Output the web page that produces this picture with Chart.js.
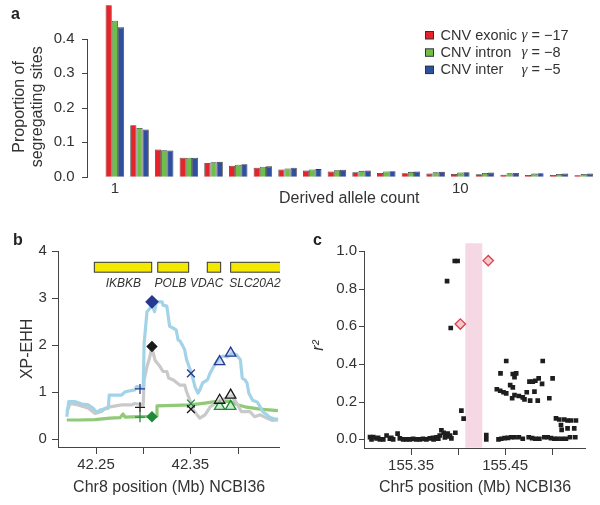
<!DOCTYPE html>
<html><head><meta charset="utf-8">
<script src="https://cdn.jsdelivr.net/npm/chart.js@4.4.0/dist/chart.umd.min.js"></script>
<style>
html,body{margin:0;padding:0;background:#fff;}
#wrap{position:relative;width:600px;height:505px;overflow:hidden;background:#fff;}
canvas{position:absolute;}
</style></head><body>
<div id="wrap">
<canvas id="ca" width="600" height="215" style="left:0;top:0"></canvas>
<canvas id="cb" width="300" height="280" style="left:0;top:225px"></canvas>
<canvas id="cc" width="300" height="280" style="left:300px;top:225px"></canvas>
</div>
<script>
// ---------- Panel a data ----------
const alleleCountLabels = ['1','','','','','','','','','','','','','','10','','','','',''];
const cnvExonic = [0.497,0.149,0.079,0.055,0.040,0.032,0.026,0.021,0.018,0.015,0.013,0.011,0.010,0.009,0.008,0.007,0.006,0.005,0.005,0.004];
const cnvIntron = [0.452,0.141,0.077,0.055,0.042,0.035,0.029,0.024,0.021,0.019,0.017,0.015,0.014,0.013,0.012,0.011,0.010,0.009,0.008,0.008];
const cnvInter  = [0.433,0.137,0.076,0.055,0.043,0.036,0.030,0.026,0.022,0.020,0.018,0.016,0.015,0.014,0.013,0.012,0.011,0.010,0.009,0.009];
const seriesNames = ['CNV exonic','CNV intron','CNV inter'];
const gammaValues = ['\u221217','\u22128','\u22125'];
const propTicks = [0,0.1,0.2,0.3,0.4];

// ---------- Panel b data ----------
const chr8Ticks = [42.25,42.30,42.35,42.40];
const chr8TickLabels = ['42.25','','42.35',''];
const xpehhTicks = [0,1,2,3,4];
const blueX = [42.219,42.221,42.228,42.235,42.242,42.247,42.251,42.254,42.263,42.264,42.277,42.281,42.291,42.293,42.300,42.301,42.304,42.307,42.309,42.312,42.314,42.320,42.321,42.325,42.328,42.332,42.335,42.337,42.339,42.342,42.344,42.346,42.350,42.352,42.355,42.358,42.360,42.363,42.368,42.371,42.374,42.378,42.381,42.385,42.389,42.392,42.395,42.399,42.403,42.405,42.408,42.410,42.412,42.416,42.421,42.424,42.427,42.431,42.434,42.439,42.443];
const blueY = [0.48,0.80,0.80,0.75,0.73,0.66,0.57,0.62,0.66,0.94,0.94,1.01,1.05,1.12,1.08,2.04,2.71,2.78,2.89,2.71,2.92,2.92,2.85,2.83,2.40,2.36,2.32,2.11,2.09,1.98,1.90,1.69,1.47,1.34,1.11,0.98,1.05,1.20,1.26,1.41,1.52,1.66,1.73,1.77,1.75,1.79,1.83,1.79,1.69,1.30,1.26,1.20,0.98,0.83,0.79,0.69,0.58,0.52,0.47,0.43,0.43];
const greyX = [42.219,42.2225,42.231,42.242,42.249,42.256,42.2595,42.265,42.277,42.288,42.291,42.300,42.301,42.304,42.307,42.309,42.3125,42.318,42.321,42.325,42.327,42.332,42.339,42.344,42.346,42.350,42.353,42.357,42.360,42.3655,42.371,42.376,42.383,42.388,42.394,42.399,42.404,42.413,42.418,42.424,42.431,42.437,42.443];
const greyY = [0.59,0.76,0.73,0.66,0.55,0.59,0.66,0.69,0.73,0.73,0.76,0.73,1.26,1.54,1.75,1.97,1.68,1.54,1.44,1.44,1.30,1.26,1.15,1.15,1.01,0.80,0.62,0.52,0.45,0.52,0.69,0.76,0.83,0.88,0.92,0.77,0.59,0.59,0.48,0.52,0.45,0.40,0.41];
const greenX = [42.219,42.233,42.249,42.2648,42.2754,42.2786,42.2807,42.2966,42.3136,42.3146,42.3337,42.3496,42.3655,42.3761,42.3919,42.4004,42.4078,42.4237,42.4428];
const greenY = [0.41,0.41,0.42,0.45,0.46,0.54,0.47,0.48,0.49,0.71,0.72,0.73,0.77,0.80,0.81,0.73,0.69,0.64,0.61];
const snpX = [42.2966,42.3093,42.3506,42.3810,42.3927];
const snpStyles = ['cross','rectRot','crossRot','triangle','triangle'];
const snpBlue  = [1.07,2.92,1.40,1.65,1.83];
const snpBlack = [0.68,1.97,0.64,0.83,0.94];
const snpGreen = [0.47,0.48,0.76,0.70,0.70];
const geneNames = ['IKBKB','POLB','VDAC','SLC20A2'];
const geneStart = [42.2482,42.3154,42.3679,42.3927];
const geneEnd   = [42.3090,42.3482,42.3821,42.4500];
const geneLabelX = [42.2789,42.3290,42.3673,42.4184];

// ---------- Panel c data ----------
const chr5Ticks = [155.35,155.40,155.45,155.50];
const chr5TickLabels = ['155.35','','155.45',''];
const r2Ticks = [0,0.2,0.4,0.6,0.8,1.0];
const ldX = [155.3064,155.3080,155.3099,155.3134,155.3150,155.3170,155.3205,155.3240,155.3275,155.3290,155.3310,155.3357,155.3381,155.3416,155.3452,155.3487,155.3522,155.3558,155.3593,155.3628,155.3664,155.3699,155.3734,155.3740,155.3770,155.3790,155.3805,155.3823,155.3847,155.3860,155.3876,155.3890,155.3904,155.3915,155.3929,155.3971,
 155.3883,155.3922,155.3965,155.3995,155.4035,155.4059,
 155.4300,155.4300,
 155.4512,155.4900,155.4451,155.4582,155.4618,155.4600,155.4759,155.4794,155.4822,155.4857,155.4893,155.5005,155.4554,155.4582,155.4412,155.4448,155.4483,155.4512,155.4600,155.4646,155.4688,155.4730,155.4812,155.4575,155.4706,155.4766,155.4847,155.4970,
 155.5041,155.5076,155.5129,155.5164,155.5200,155.5253,155.5094,155.5101,155.5164,155.5235,
 155.4430,155.4459,155.4494,155.4529,155.4565,155.4600,155.4646,155.4688,155.4751,155.4787,155.4822,155.4864,155.4917,155.4952,155.4988,155.5023,155.5058,155.5105,155.5147,155.5190,155.5246];
const ldR2 = [0.012,0.000,0.012,0.005,0.008,0.000,0.000,0.020,0.003,0.008,0.000,0.030,0.005,0.000,0.000,0.000,0.002,0.000,0.000,0.002,0.000,0.005,0.008,0.000,0.010,0.003,0.020,0.048,0.035,0.010,0.025,0.030,0.015,0.020,0.005,0.035,
 0.840,0.591,0.947,0.947,0.152,0.110,
 0.023,0.000,
 0.416,0.416,0.350,0.347,0.350,0.330,0.306,0.306,0.311,0.324,0.294,0.324,0.288,0.276,0.266,0.258,0.250,0.244,0.235,0.230,0.223,0.250,0.253,0.218,0.212,0.205,0.205,0.218,
 0.111,0.105,0.105,0.100,0.100,0.100,0.076,0.050,0.058,0.058,
 0.000,0.003,0.006,0.008,0.011,0.011,0.011,0.003,0.011,0.006,0.003,0.003,0.011,0.011,0.006,0.003,0.003,0.003,0.003,0.011,0.011];
const cnvSnpX = [155.4024,155.4321];
const cnvSnpR2 = [0.612,0.949];
const bandRange = [155.4077,155.4257];

// ---------- helpers ----------
const FONT = "'Liberation Sans', Arial, Helvetica, sans-serif";
Chart.defaults.font.family = FONT;
Chart.defaults.color = '#333';
const AXC = '#444444';
const pts = (xs, ys) => xs.map((x, i) => ({x: x, y: ys[i]}));
const fixedTicks = arr => (s => { s.ticks = arr.map(v => ({value: v})); });

// R-style axes drawn with the chart's own scales (filled 1px rectangles)
function makeAxes(name, cfg) {
  return {
    id: 'axes_' + name,
    afterDraw(chart) {
      const ctx = chart.ctx, area = chart.chartArea;
      ctx.save();
      ctx.globalAlpha = 1;
      ctx.globalCompositeOperation = 'source-over';
      ctx.fillStyle = AXC;
      if (cfg.y) {
        const s = chart.scales.y;
        const xx = Math.round(area.left - cfg.y.shift);
        const yTop = Math.round((cfg.y.top !== undefined) ? s.getPixelForValue(cfg.y.top) : area.top);
        const yBot = Math.round((cfg.y.bottom !== undefined) ? s.getPixelForValue(cfg.y.bottom) : area.bottom);
        ctx.fillRect(xx, yTop, 1, yBot - yTop + 1);
        s.ticks.forEach(t => {
          const py = Math.round(s.getPixelForValue(t.value));
          ctx.fillRect(xx - cfg.y.tick, py, cfg.y.tick, 1);
        });
      }
      if (cfg.x) {
        const s = chart.scales.x;
        const yy = Math.round(area.bottom);
        ctx.fillRect(Math.round(area.left), yy, Math.round(area.right - area.left), 1);
        s.ticks.forEach(t => {
          const px = Math.round(s.getPixelForValue(t.value));
          ctx.fillRect(px, yy, 1, cfg.x.tick);
        });
      }
      ctx.fillStyle = '#222';
      ctx.font = 'bold 16px ' + FONT;
      ctx.textBaseline = 'alphabetic';
      ctx.textAlign = 'left';
      ctx.fillText(cfg.label.text, cfg.label.x, cfg.label.y);
      ctx.restore();
    }
  };
}

// ---------- Panel a ----------
const barColors = ['#e4232a','#6dbf47','#2f50a1'];
const legendPlugin = {
  id: 'cnvLegend',
  afterDraw(chart) {
    const ctx = chart.ctx;
    ctx.save();
    chart.data.datasets.forEach((ds, i) => {
      const y = 31 + i * 17.3;
      ctx.fillStyle = '#333';
      ctx.fillRect(425, y, 9, 8.5);
      ctx.fillStyle = ds.backgroundColor;
      ctx.fillRect(426, y + 1, 7, 6.5);
      ctx.fillStyle = '#333'; ctx.textBaseline = 'middle'; ctx.textAlign = 'left';
      ctx.font = '14.5px ' + FONT;
      ctx.fillText(seriesNames[i], 440.5, y + 4.6);
      ctx.font = 'italic 15px "Liberation Serif", serif';
      ctx.fillText('\u03b3', 521.5, y + 4.2);
      const w = ctx.measureText('\u03b3').width;
      ctx.font = '14.5px ' + FONT;
      ctx.fillText(' = ' + gammaValues[i], 521.5 + w, y + 4.6);
    });
    ctx.restore();
  }
};
new Chart(document.getElementById('ca'), {
  type: 'bar',
  data: {
    labels: alleleCountLabels,
    datasets: [
      {label: seriesNames[0], data: cnvExonic, backgroundColor: barColors[0]},
      {label: seriesNames[1], data: cnvIntron, backgroundColor: barColors[1]},
      {label: seriesNames[2], data: cnvInter, backgroundColor: barColors[2]}
    ]
  },
  options: {
    responsive: false, animation: false, devicePixelRatio: 1,
    datasets: {bar: {categoryPercentage: 0.75, barPercentage: 1, borderColor: '#3a3a3a', borderWidth: 0.8, clip: false}},
    layout: {padding: {left: 0, right: 4, top: 0, bottom: 0}},
    plugins: {legend: {display: false}, tooltip: {enabled: false}},
    scales: {
      x: {grid: {display: false, drawTicks: false}, border: {display: false},
          ticks: {autoSkip: false, maxRotation: 0, padding: 3, font: {size: 15}},
          title: {display: true, text: 'Derived allele count', font: {size: 16}, padding: {top: 0, bottom: 7}},
          afterFit: s => { s.height = 38.3; }},
      y: {min: 0, max: 0.405, afterBuildTicks: fixedTicks(propTicks),
          grid: {display: false, drawTicks: false}, border: {display: false},
          ticks: {padding: 28, font: {size: 15}, callback: v => v.toFixed(1)},
          title: {display: true, text: ['Proportion of', 'segregating sites'], font: {size: 16, lineHeight: 1.15}, padding: {top: 10}},
          afterFit: s => { s.width = 102.5; }}
    }
  },
  plugins: [legendPlugin, makeAxes('a', {y: {shift: 15.5, top: 0.4, bottom: 0, tick: 5}, label: {text: 'a', x: 11, y: 18.5}})]
});

// ---------- Panel b ----------
const NAVY = '#27388f', BLK = '#1a1a1a', DGRN = '#1e8a3a';
const genePlugin = {
  id: 'genes',
  beforeDatasetsDraw(chart) {
    const ctx = chart.ctx, x = chart.scales.x, y = chart.scales.y, area = chart.chartArea;
    ctx.save();
    ctx.beginPath(); ctx.rect(area.left, 0, area.right - area.left, chart.height); ctx.clip();
    const yt = y.getPixelForValue(3.76), yb = y.getPixelForValue(3.55);
    geneNames.forEach((g, i) => {
      const x0 = x.getPixelForValue(geneStart[i]), x1 = x.getPixelForValue(geneEnd[i]);
      ctx.fillStyle = '#f4e800'; ctx.fillRect(x0, yt, x1 - x0, yb - yt);
      ctx.strokeStyle = '#333'; ctx.lineWidth = 1; ctx.strokeRect(x0, yt, x1 - x0, yb - yt);
    });
    ctx.restore();
    ctx.save();
    ctx.fillStyle = '#333'; ctx.font = 'italic 12px ' + FONT; ctx.textAlign = 'center'; ctx.textBaseline = 'middle';
    geneNames.forEach((g, i) => ctx.fillText(g, x.getPixelForValue(geneLabelX[i]), y.getPixelForValue(3.30)));
    ctx.restore();
  }
};
const lineDs = (xs, ys, color, order) => ({data: pts(xs, ys), showLine: true, borderColor: color, borderWidth: 3.2, pointRadius: 0, tension: 0, order: order, borderJoinStyle: 'round'});
const markerDs = (ys, stroke, solid, triFill, order) => ({
  data: pts(snpX, ys), showLine: false, order: order,
  pointStyle: snpStyles,
  pointRadius: snpStyles.map(s => s === 'rectRot' ? (stroke === NAVY ? 6 : 4.8) : s === 'triangle' ? 6 : s === 'crossRot' ? 5.5 : 5),
  pointBorderColor: stroke, pointBorderWidth: 1.3,
  pointBackgroundColor: snpStyles.map(s => s === 'rectRot' ? solid : s === 'triangle' ? triFill : 'rgba(0,0,0,0)')
});
new Chart(document.getElementById('cb'), {
  type: 'scatter',
  data: {datasets: [
    markerDs(snpBlue, NAVY, NAVY, 'rgba(170,200,238,0.6)', 1),
    markerDs(snpBlack, BLK, BLK, 'rgba(215,215,215,0.6)', 2),
    markerDs(snpGreen, DGRN, DGRN, 'rgba(170,222,170,0.55)', 3),
    lineDs(blueX, blueY, '#a3d3e7', 4),
    lineDs(greyX, greyY, '#c9c9c9', 5),
    lineDs(greenX, greenY, '#90c977', 6)
  ]},
  options: {
    responsive: false, animation: false, devicePixelRatio: 1,
    layout: {padding: {left: 0, right: 20, top: 26, bottom: 0}},
    plugins: {legend: {display: false}, tooltip: {enabled: false}},
    scales: {
      x: {type: 'linear', min: 42.21, max: 42.445, afterBuildTicks: fixedTicks(chr8Ticks),
          grid: {display: false, drawTicks: false}, border: {display: false},
          ticks: {autoSkip: false, maxRotation: 0, padding: 9, font: {size: 15}, callback: (v, i) => chr8TickLabels[i]},
          title: {display: true, text: 'Chr8 position (Mb) NCBI36', font: {size: 16}, padding: {top: 0, bottom: 8}},
          afterFit: s => { s.height = 58.3; }},
      y: {min: -0.157, max: 4.0, afterBuildTicks: fixedTicks(xpehhTicks),
          grid: {display: false, drawTicks: false}, border: {display: false},
          ticks: {padding: 11.5, font: {size: 15}, callback: v => String(v)},
          title: {display: true, text: 'XP-EHH', font: {size: 16}, padding: {top: 17.5}},
          afterFit: s => { s.width = 58.3; }}
    }
  },
  plugins: [genePlugin, makeAxes('b', {y: {shift: 0, tick: 6}, x: {tick: 7}, label: {text: 'b', x: 13, y: 19.5}})]
});

// ---------- Panel c ----------
const bandPlugin = {
  id: 'band',
  beforeDatasetsDraw(chart) {
    const ctx = chart.ctx, x = chart.scales.x, area = chart.chartArea;
    const x0 = x.getPixelForValue(bandRange[0]), x1 = x.getPixelForValue(bandRange[1]);
    ctx.save(); ctx.fillStyle = '#f6d8e5'; ctx.fillRect(x0, area.top, x1 - x0, area.bottom - area.top); ctx.restore();
  }
};
new Chart(document.getElementById('cc'), {
  type: 'scatter',
  data: {datasets: [
    {data: pts(cnvSnpX, cnvSnpR2), pointStyle: 'rectRot', pointRadius: 5.2, pointBackgroundColor: '#f7c6cb', pointBorderColor: '#d8404d', pointBorderWidth: 1.3, order: 1},
    {data: pts(ldX, ldR2), pointStyle: 'rect', pointRadius: 3.3, pointBackgroundColor: '#1e1e1e', pointBorderWidth: 0, order: 2}
  ]},
  options: {
    responsive: false, animation: false, devicePixelRatio: 1,
    layout: {padding: {left: 0, right: 14, top: 18.3, bottom: 0}},
    plugins: {legend: {display: false}, tooltip: {enabled: false}},
    scales: {
      x: {type: 'linear', min: 155.30, max: 155.536, afterBuildTicks: fixedTicks(chr5Ticks),
          grid: {display: false, drawTicks: false}, border: {display: false},
          ticks: {autoSkip: false, maxRotation: 0, padding: 9, font: {size: 15}, callback: (v, i) => chr5TickLabels[i]},
          title: {display: true, text: 'Chr5 position (Mb) NCBI36', font: {size: 16}, padding: {top: 0, bottom: 8}},
          afterFit: s => { s.height = 57.3; }},
      y: {min: -0.0446, max: 1.041, afterBuildTicks: fixedTicks(r2Ticks),
          grid: {display: false, drawTicks: false}, border: {display: false},
          ticks: {padding: 7, font: {size: 15}, callback: v => v.toFixed(1)},
          title: {display: true, text: 'r\u00b2', font: {size: 16, style: 'italic'}, padding: {top: 9}},
          afterFit: s => { s.width = 64; }}
    }
  },
  plugins: [bandPlugin, makeAxes('c', {y: {shift: 0, tick: 5, top: 1.0}, x: {tick: 7}, label: {text: 'c', x: 13, y: 19.5}})]
});
</script>
</body></html>
